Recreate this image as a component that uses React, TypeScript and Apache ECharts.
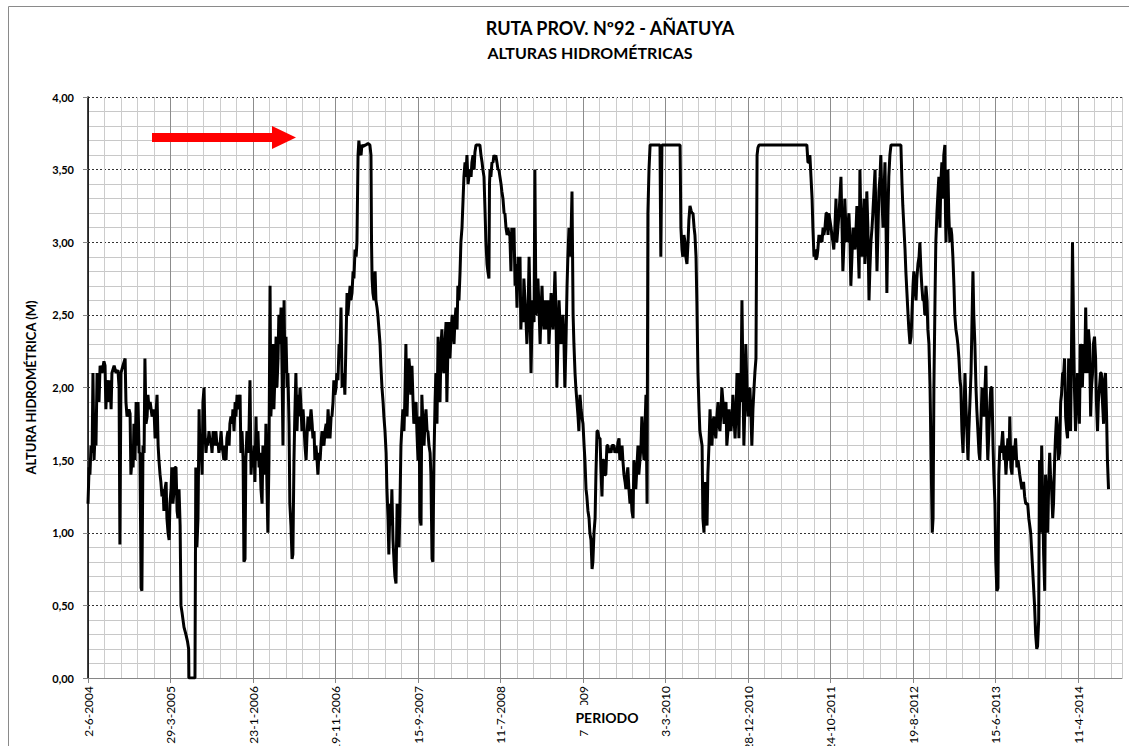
import { useEffect, useRef } from 'react';
import * as echarts from 'echarts';

const titulo = 'RUTA PROV. Nº92 - AÑATUYA';
const subtitulo = 'ALTURAS HIDROMÉTRICAS';
const nombreEjeY = 'ALTURA HIDROMÉTRICA (M)';
const nombreEjeX = 'PERIODO';

// x = days since 2-6-2004
const tickDays = [0, 300, 600, 900, 1200, 1500, 1800, 2100, 2400, 2700, 3000, 3300, 3600];
const tickLabels = ['2-6-2004', '29-3-2005', '23-1-2006', '19-11-2006', '15-9-2007', '11-7-2008', '7-5-2009', '3-3-2010', '28-12-2010', '24-10-2011', '19-8-2012', '15-6-2013', '11-4-2014'];
const diasMax = 3760;

const alturas: [number, number][] = [
  [0,1.2],[4,1.45],[7,1.4],[11,1.6],[15,1.55],[18,2.1],[22,1.5],[25,1.65],[29,1.6],[33,2.1],[36,2.05],[40,1.9],[44,2.15],[51,2.1],[58,2.18],[62,2.15],[65,1.85],[69,2.05],[73,2.0],[76,1.9],[80,2.05],[84,1.85],[87,2.1],[95,2.15],[102,2.1],[109,2.12],[113,2.0],[116,0.92],[120,2.1],[127,2.15],[135,2.2],[138,1.9],[142,1.8],[149,1.85],[153,1.82],[156,1.4],[160,1.5],[164,1.45],[167,1.75],[171,1.5],[175,1.9],[178,1.6],[182,1.9],[186,1.55],[189,1.55],[193,0.62],[196,0.6],[200,1.6],[204,1.55],[207,2.2],[211,1.75],[215,1.8],[218,1.95],[222,1.85],[226,1.9],[233,1.8],[240,1.85],[244,1.65],[247,1.8],[251,1.95],[255,1.6],[258,1.5],[262,1.4],[265,1.35],[269,1.25],[273,1.3],[276,1.15],[280,1.3],[284,1.35],[287,1.1],[291,1.0],[295,0.95],[298,1.2],[302,1.3],[305,1.45],[309,1.2],[313,1.3],[316,1.45],[320,1.45],[324,1.15],[327,1.1],[331,1.3],[335,1.05],[338,0.5],[342,0.45],[349,0.35],[356,0.3],[362,0.25],[366,0.2],[367,0],[389,0],[392,1.45],[396,0.9],[400,1.1],[404,1.85],[407,1.55],[411,1.6],[415,1.4],[418,1.9],[422,2.0],[425,1.7],[429,1.55],[433,1.65],[436,1.6],[440,1.7],[444,1.62],[447,1.65],[451,1.55],[455,1.7],[458,1.6],[462,1.65],[465,1.7],[469,1.6],[473,1.62],[476,1.55],[480,1.6],[484,1.7],[487,1.6],[491,1.55],[494,1.5],[498,1.6],[502,1.5],[505,1.65],[509,1.7],[513,1.6],[516,1.75],[520,1.8],[524,1.75],[527,1.85],[531,1.7],[535,1.9],[538,1.8],[542,1.95],[545,1.85],[549,1.9],[553,1.95],[556,1.55],[560,1.7],[564,1.5],[567,0.8],[571,0.82],[574,1.5],[578,1.7],[582,1.55],[585,1.65],[589,2.05],[593,1.4],[596,1.55],[600,1.45],[604,1.6],[607,1.35],[611,1.8],[614,1.5],[618,1.7],[622,1.45],[625,1.55],[629,1.3],[633,1.2],[636,1.6],[640,1.55],[644,1.4],[647,1.75],[651,1.3],[654,1.0],[658,1.5],[662,2.7],[665,1.8],[669,2.0],[673,2.3],[676,1.85],[680,2.1],[684,2.35],[687,2.0],[691,2.2],[694,2.5],[698,2.3],[702,2.55],[705,2.2],[709,1.6],[713,2.6],[716,2.1],[720,2.35],[724,2.0],[727,2.1],[731,1.75],[734,1.2],[738,1.05],[742,0.82],[745,0.85],[749,1.5],[752,1.8],[756,2.1],[760,1.7],[764,1.95],[767,1.8],[771,2.0],[775,1.85],[778,1.7],[782,1.85],[785,1.75],[789,1.6],[793,1.5],[796,1.65],[800,1.8],[804,1.7],[807,1.75],[811,1.85],[815,1.75],[818,1.65],[822,1.7],[825,1.5],[829,1.6],[833,1.5],[836,1.4],[840,1.55],[844,1.5],[847,1.6],[851,1.7],[855,1.62],[858,1.6],[862,1.7],[866,1.75],[869,1.65],[873,1.85],[877,1.7],[880,1.65],[884,1.8],[887,1.8],[891,1.9],[894,2.05],[898,1.95],[902,2.0],[905,2.1],[909,2.05],[913,2.3],[916,2.2],[920,2.55],[924,2.0],[927,2.05],[931,2.1],[934,1.95],[938,2.3],[942,2.65],[945,2.5],[949,2.6],[953,2.7],[956,2.6],[960,2.65],[964,2.8],[967,2.75],[971,2.95],[975,2.9],[978,3.0],[982,3.6],[985,3.7],[989,3.62],[993,3.6],[996,3.67],[1000,3.66],[1010,3.67],[1018,3.68],[1025,3.67],[1029,3.6],[1031,3.0],[1033,2.75],[1036,2.65],[1040,2.6],[1044,2.8],[1047,2.6],[1051,2.55],[1054,2.5],[1058,2.4],[1062,2.3],[1065,2.15],[1069,2.0],[1073,1.9],[1076,1.8],[1080,1.7],[1084,1.55],[1087,1.3],[1091,1.1],[1094,0.85],[1098,1.2],[1102,1.05],[1105,1.3],[1109,0.95],[1113,0.8],[1116,0.7],[1120,0.65],[1124,1.2],[1127,1.05],[1131,0.9],[1134,1.15],[1138,1.6],[1142,1.75],[1145,1.85],[1149,1.7],[1152,1.9],[1156,2.3],[1160,1.8],[1163,2.0],[1167,2.2],[1171,2.1],[1174,1.95],[1178,2.15],[1182,1.9],[1185,1.75],[1189,1.85],[1193,1.9],[1196,1.7],[1200,1.5],[1204,1.8],[1207,1.1],[1211,1.05],[1214,1.95],[1218,1.75],[1222,1.6],[1225,1.75],[1229,1.85],[1233,1.7],[1236,1.7],[1240,1.6],[1244,1.55],[1247,1.4],[1251,0.82],[1254,0.8],[1258,1.5],[1262,1.9],[1265,2.1],[1269,1.75],[1273,2.35],[1276,2.0],[1280,1.9],[1284,2.3],[1287,2.4],[1291,2.15],[1294,2.1],[1298,2.3],[1302,2.45],[1305,1.9],[1309,2.3],[1313,2.45],[1316,2.2],[1320,2.35],[1324,2.5],[1327,2.4],[1331,2.3],[1334,2.45],[1338,2.55],[1342,2.4],[1345,2.7],[1349,2.6],[1353,2.8],[1356,3.0],[1360,3.1],[1364,3.3],[1367,3.45],[1371,3.55],[1374,3.45],[1378,3.6],[1382,3.4],[1385,3.45],[1389,3.5],[1393,3.45],[1396,3.55],[1400,3.6],[1404,3.5],[1407,3.62],[1411,3.67],[1418,3.67],[1425,3.67],[1429,3.6],[1433,3.55],[1436,3.5],[1440,3.45],[1444,3.2],[1447,3.0],[1451,2.85],[1454,2.8],[1458,2.75],[1460,3.4],[1462,3.5],[1465,3.45],[1469,3.55],[1473,3.55],[1476,3.6],[1480,3.58],[1483,3.6],[1487,3.55],[1491,3.5],[1494,3.5],[1498,3.45],[1502,3.4],[1505,3.35],[1509,3.3],[1513,3.2],[1516,3.2],[1520,3.1],[1524,3.05],[1527,3.1],[1531,3.05],[1534,3.05],[1538,2.8],[1541,3.1],[1545,2.95],[1549,3.1],[1553,2.7],[1556,2.85],[1560,2.55],[1564,2.9],[1567,2.75],[1571,2.9],[1574,2.4],[1578,2.6],[1582,2.45],[1585,2.75],[1589,2.6],[1593,2.45],[1596,2.3],[1600,2.5],[1604,2.9],[1607,2.6],[1611,2.1],[1614,2.4],[1618,2.6],[1622,2.45],[1625,3.5],[1629,2.5],[1633,2.6],[1636,2.75],[1640,2.55],[1644,2.3],[1647,2.5],[1651,2.7],[1654,2.5],[1658,2.4],[1662,2.6],[1665,2.4],[1669,2.55],[1673,2.6],[1676,2.3],[1680,2.45],[1684,2.65],[1687,2.5],[1691,2.4],[1694,2.55],[1698,2.8],[1702,2.5],[1705,2.0],[1709,2.3],[1713,2.6],[1716,2.45],[1720,2.3],[1723,2.4],[1727,2.5],[1731,2.3],[1734,2.0],[1738,2.3],[1742,2.7],[1745,2.9],[1749,3.1],[1753,2.9],[1756,3.0],[1760,3.35],[1764,2.5],[1767,2.3],[1771,2.1],[1774,2.0],[1778,1.9],[1782,1.8],[1785,1.7],[1789,1.95],[1793,1.85],[1796,1.8],[1800,1.75],[1804,1.6],[1807,1.5],[1811,1.3],[1814,1.25],[1818,1.15],[1822,1.1],[1825,1.0],[1829,0.95],[1833,0.75],[1836,0.8],[1840,1.0],[1844,1.1],[1847,1.4],[1851,1.7],[1854,1.7],[1858,1.65],[1862,1.65],[1865,1.45],[1869,1.25],[1872,1.5],[1876,1.5],[1880,1.4],[1883,1.4],[1887,1.6],[1891,1.6],[1894,1.55],[1898,1.58],[1902,1.55],[1905,1.6],[1909,1.6],[1913,1.6],[1916,1.55],[1920,1.58],[1923,1.55],[1927,1.62],[1931,1.65],[1934,1.5],[1938,1.55],[1942,1.6],[1945,1.5],[1949,1.4],[1953,1.35],[1956,1.3],[1960,1.4],[1963,1.45],[1967,1.3],[1971,1.2],[1974,1.3],[1978,1.15],[1982,1.1],[1985,1.5],[1989,1.4],[1992,1.3],[1996,1.45],[2000,1.6],[2003,1.4],[2007,1.5],[2011,1.6],[2014,1.8],[2018,1.6],[2022,1.5],[2025,1.7],[2029,1.95],[2033,1.2],[2036,3.2],[2040,3.5],[2044,3.67],[2060,3.67],[2080,3.67],[2083,2.9],[2087,3.67],[2120,3.67],[2153,3.67],[2156,3.1],[2160,2.95],[2163,2.9],[2167,3.05],[2171,3.0],[2174,2.9],[2178,2.85],[2182,3.0],[2185,3.15],[2189,3.25],[2193,3.22],[2196,3.2],[2200,3.2],[2204,3.1],[2207,3.05],[2211,2.9],[2214,2.6],[2218,2.1],[2222,1.85],[2225,1.7],[2229,1.65],[2233,1.6],[2236,1.1],[2240,1.0],[2243,1.35],[2247,1.1],[2251,1.05],[2254,1.4],[2258,1.6],[2262,1.85],[2265,1.7],[2269,1.6],[2272,1.75],[2276,1.8],[2280,1.7],[2283,1.65],[2287,1.8],[2291,1.9],[2294,1.75],[2298,1.7],[2302,1.85],[2305,2.0],[2309,1.9],[2313,1.75],[2316,1.85],[2320,1.9],[2323,1.6],[2327,1.7],[2331,1.85],[2334,1.75],[2338,1.7],[2342,1.8],[2345,1.95],[2349,1.8],[2353,1.65],[2356,1.8],[2360,2.1],[2364,1.9],[2367,1.65],[2371,2.1],[2374,1.9],[2378,2.6],[2382,2.0],[2385,1.6],[2389,1.9],[2392,2.3],[2396,2.0],[2400,1.8],[2403,1.9],[2407,2.0],[2411,1.8],[2414,1.6],[2418,1.85],[2422,2.0],[2425,2.1],[2429,2.2],[2433,3.6],[2436,3.65],[2440,3.67],[2500,3.67],[2560,3.67],[2614,3.67],[2618,3.55],[2622,3.55],[2625,3.6],[2629,3.45],[2633,3.3],[2636,3.1],[2640,2.9],[2643,2.95],[2647,2.88],[2651,2.9],[2654,2.95],[2658,3.05],[2662,3.0],[2665,3.05],[2669,3.0],[2673,3.1],[2676,3.05],[2680,3.1],[2684,3.2],[2687,3.2],[2691,3.05],[2694,3.2],[2698,3.15],[2702,3.1],[2705,3.05],[2709,3.0],[2712,2.95],[2716,3.1],[2720,3.3],[2723,3.0],[2727,3.1],[2731,3.2],[2734,3.3],[2738,3.45],[2742,3.1],[2745,2.8],[2749,3.0],[2752,3.3],[2756,3.1],[2760,3.0],[2763,3.1],[2767,3.2],[2771,3.0],[2774,2.7],[2778,2.9],[2782,3.1],[2785,3.05],[2789,2.95],[2793,3.1],[2796,3.25],[2800,3.0],[2804,2.75],[2807,3.5],[2811,3.1],[2814,2.9],[2818,3.1],[2822,3.3],[2825,2.85],[2829,3.0],[2832,3.35],[2836,3.1],[2840,2.6],[2843,2.8],[2847,3.0],[2851,3.1],[2854,3.2],[2858,3.35],[2862,3.5],[2865,3.2],[2869,2.8],[2873,3.1],[2876,3.35],[2880,3.45],[2883,3.6],[2887,3.3],[2891,3.1],[2894,3.3],[2898,3.55],[2902,3.1],[2905,2.65],[2909,3.2],[2912,3.45],[2916,3.6],[2920,3.67],[2940,3.67],[2956,3.67],[2960,3.4],[2963,3.25],[2967,3.1],[2971,2.95],[2974,2.8],[2978,2.65],[2982,2.5],[2985,2.4],[2989,2.3],[2993,2.35],[2996,2.5],[3000,2.7],[3003,2.8],[3007,2.7],[3011,2.6],[3014,2.75],[3018,2.85],[3022,2.9],[3025,3.0],[3029,2.8],[3032,2.7],[3036,2.6],[3040,2.6],[3043,2.5],[3047,2.7],[3051,2.6],[3054,2.4],[3058,2.3],[3062,2.0],[3066,1.5],[3070,1.0],[3073,1.1],[3076,2.0],[3080,2.6],[3083,3.0],[3087,3.2],[3091,3.35],[3094,3.45],[3098,3.1],[3101,3.4],[3105,3.55],[3109,3.3],[3112,3.6],[3116,3.67],[3118,3.2],[3120,3.0],[3123,3.3],[3127,3.5],[3130,3.2],[3134,3.0],[3138,3.1],[3141,3.05],[3145,2.9],[3149,2.7],[3152,2.5],[3156,2.4],[3160,2.35],[3163,2.3],[3167,2.2],[3171,2.05],[3174,2.0],[3178,1.7],[3182,1.55],[3185,1.8],[3189,2.1],[3192,1.9],[3196,1.7],[3200,1.5],[3203,1.7],[3207,1.9],[3211,2.1],[3214,2.4],[3218,2.8],[3221,2.5],[3225,2.3],[3229,2.0],[3232,1.85],[3236,1.7],[3240,1.55],[3243,1.5],[3247,1.75],[3251,2.0],[3254,1.85],[3258,1.8],[3262,2.0],[3265,2.15],[3269,1.7],[3272,1.5],[3276,1.7],[3280,1.9],[3283,2.0],[3287,2.0],[3291,1.6],[3294,1.4],[3298,1.2],[3301,0.8],[3305,0.6],[3309,0.62],[3312,1.4],[3316,1.6],[3320,1.55],[3326,1.7],[3331,1.5],[3334,1.6],[3338,1.4],[3342,1.55],[3345,1.65],[3349,1.5],[3352,1.8],[3356,1.45],[3360,1.4],[3363,1.6],[3367,1.5],[3373,1.65],[3378,1.45],[3382,1.5],[3388,1.4],[3392,1.35],[3396,1.3],[3402,1.35],[3406,1.25],[3410,1.2],[3417,1.2],[3421,1.1],[3428,1.0],[3435,0.75],[3442,0.5],[3446,0.3],[3450,0.2],[3453,0.22],[3457,0.4],[3460,1.5],[3464,1.0],[3468,1.6],[3471,1.3],[3475,0.85],[3479,0.6],[3482,1.4],[3486,1.2],[3490,1.0],[3493,1.3],[3497,1.55],[3500,1.4],[3504,1.3],[3508,1.1],[3511,1.2],[3515,1.5],[3518,1.65],[3522,1.8],[3526,1.7],[3529,1.5],[3533,1.55],[3537,1.9],[3540,1.95],[3544,2.1],[3548,2.1],[3551,2.2],[3555,1.8],[3559,1.7],[3562,1.65],[3566,2.2],[3573,1.7],[3576,2.2],[3580,3.0],[3584,2.4],[3587,2.0],[3591,1.7],[3595,1.9],[3598,2.1],[3602,2.0],[3605,1.75],[3609,2.3],[3613,2.1],[3616,2.0],[3620,2.3],[3624,2.1],[3628,2.55],[3631,2.2],[3635,2.1],[3638,2.4],[3642,2.3],[3646,1.8],[3649,2.0],[3653,2.1],[3656,2.3],[3660,2.35],[3664,2.2],[3667,1.9],[3671,1.7],[3674,1.9],[3678,2.0],[3682,2.1],[3685,2.1],[3689,1.9],[3693,1.75],[3696,2.05],[3700,2.1],[3704,1.8],[3707,1.5],[3711,1.3]
];

const FONT = 'Lato';

export default function App() {
  const ref = useRef<HTMLDivElement>(null);
  useEffect(() => {
    if (!ref.current) return;
    const chart = echarts.init(ref.current, null, { renderer: 'svg' });
    const option: any = {
      animation: false,
      backgroundColor: '#ffffff',
      grid: { left: 88, top: 97, width: 1034, height: 581, containLabel: false, outerBoundsMode: 'none' },
      xAxis: [
        {
          type: 'value',
          min: 0,
          max: diasMax,
          interval: 60,
          axisLine: { show: true, onZero: false, lineStyle: { color: '#868686', width: 1 } },
          axisTick: { show: false },
          axisLabel: {
            formatter: (v: number) => {
              const i = tickDays.indexOf(v);
              return i >= 0 ? tickLabels[i] : '';
            },
            rotate: 90,
            margin: 8,
            fontFamily: FONT,
            fontSize: 12,
            color: '#000',
          },
          splitLine: {
            show: true,
            lineStyle: { color: ['#8c8c8c', '#cccccc', '#cccccc', '#cccccc', '#cccccc'], width: 1 },
          },
        },
        {
          type: 'value',
          min: 0,
          max: diasMax,
          interval: 300,
          position: 'bottom',
          axisLine: { show: false, onZero: false },
          axisTick: { show: true, length: 5, customValues: tickDays, lineStyle: { color: '#868686' } },
          axisLabel: { show: false },
          splitLine: { show: false },
        },
      ],
      yAxis: [
        {
          type: 'value',
          min: 0,
          max: 4,
          interval: 0.5,
          name: nombreEjeY,
          nameLocation: 'middle',
          nameGap: 51,
          nameTextStyle: { fontFamily: FONT, fontWeight: 'bold', fontSize: 13, color: '#000' },
          axisLine: { show: true, lineStyle: { color: '#868686' } },
          axisTick: { show: true, length: 5, lineStyle: { color: '#868686' } },
          axisLabel: {
            formatter: (v: number) => v.toFixed(2).replace('.', ','),
            fontFamily: FONT,
            fontWeight: 'bold',
            fontSize: 11,
            color: '#000',
            margin: 14,
          },
          splitLine: { show: true, lineStyle: { color: '#333333', type: [2, 2], width: 1 } },
          minorTick: { show: false, splitNumber: 5 },
          minorSplitLine: { show: true, lineStyle: { color: '#c8c8c8', width: 1 } },
        },
        {
          type: 'value',
          min: 0,
          max: 4,
          position: 'right',
          axisLine: { show: true, lineStyle: { color: '#000', width: 1.5 } },
          axisTick: { show: false },
          axisLabel: { show: false },
          splitLine: { show: false },
        },
      ],
      series: [
        {
          type: 'line',
          data: alturas,
          xAxisIndex: 0,
          yAxisIndex: 0,
          symbol: 'none',
          showSymbol: false,
          lineStyle: { color: '#000', width: 3 },
          z: 5,
        },
      ],
      graphic: [
        {
          type: 'rect',
          silent: true,
          z: 0,
          shape: { x: 8.5, y: 6.5, width: 1300, height: 900 },
          style: { fill: 'none', stroke: '#8a8a8a', lineWidth: 1 },
        },
        {
          type: 'text',
          z: 100,
          x: 610,
          y: 28,
          style: { text: titulo, align: 'center', verticalAlign: 'middle', font: `bold 18px ${FONT}`, fill: '#000' },
        },
        {
          type: 'text',
          z: 100,
          x: 590,
          y: 52,
          style: { text: subtitulo, align: 'center', verticalAlign: 'middle', font: `bold 16px ${FONT}`, fill: '#000' },
        },
        {
          type: 'polygon',
          z: 100,
          shape: { points: [[152, 133], [272, 133], [272, 126], [296, 137.5], [272, 149], [272, 142], [152, 142]] },
          style: { fill: '#ff0000' },
        },
        {
          type: 'text',
          z: 100,
          x: 607,
          y: 717,
          style: {
            text: nombreEjeX,
            align: 'center',
            verticalAlign: 'middle',
            font: `bold 14px ${FONT}`,
            fill: '#000',
            backgroundColor: '#fff',
            padding: [5, 8],
          },
        },
      ],
    };
    chart.setOption(option);
    return () => chart.dispose();
  }, []);
  return (
    <div
      ref={ref}
      style={{ position: 'absolute', left: 0, top: 0, width: 1129, height: 746, background: '#fff' }}
    />
  );
}
